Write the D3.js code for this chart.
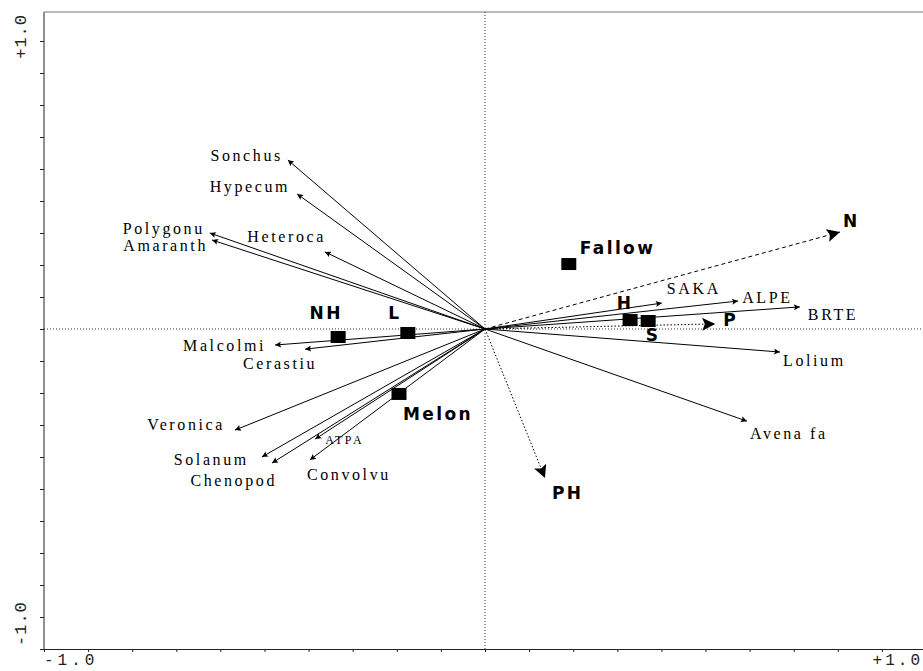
<!DOCTYPE html>
<html>
<head>
<meta charset="utf-8">
<script src="https://cdn.jsdelivr.net/npm/d3@7/dist/d3.min.js"></script>
<style>
  html, body { margin: 0; padding: 0; background: #fff; }
  svg { display: block; }
</style>
</head>
<body>
<svg id="chart" width="923" height="671"></svg>
<script>
// ---------------- DATA ----------------
const speciesNames = ["Sonchus", "Hypecum", "Polygonu", "Amaranth", "Heteroca", "Malcolmi", "Cerastiu",
  "Veronica", "Solanum", "Chenopod", "ATPA", "Convolvu", "SAKA", "ALPE", "BRTE", "Lolium", "Avena fa"];
const speciesX = [-0.447, -0.426, -0.624, -0.619, -0.363, -0.476, -0.408,
  -0.567, -0.506, -0.483, -0.385, -0.397, 0.401, 0.574, 0.714, 0.669, 0.594];
const speciesY = [0.528, 0.422, 0.300, 0.278, 0.241, -0.050, -0.063,
  -0.316, -0.400, -0.419, -0.344, -0.409, 0.081, 0.0875, 0.069, -0.072, -0.288];

const envNames = ["N", "P", "PH"];
const envX = [0.805, 0.522, 0.136];
const envY = [0.303, 0.016, -0.466];

const sampleNames = ["Fallow", "H", "S", "NH", "L", "Melon"];
const sampleX = [0.190, 0.329, 0.370, -0.333, -0.175, -0.195];
const sampleY = [0.203, 0.028, 0.025, -0.025, -0.0125, -0.203];

const axisTickLabels = ["-1.0", "+1.0"];

// ---------------- LAYOUT (label offsets in px, anchor) ----------------
const speciesLabelLayout = [
  [-5, -5, "end"], [-7, -7, "end"], [-5, -5, "end"], [-4, 5, "end"], [1, -15, "end"],
  [-9, 0, "end"], [-25, 14, "middle"], [-10, -6, "end"], [-13, 2, "end"], [5, 17, "end"],
  [10, 1, "start"], [-3, 15, "start"], [5, -15, "start"], [4, -4, "start"], [8, 8, "start"],
  [3, 8, "start"], [3, 12, "start"]
];
const envLabelLayout = [[3, -11, "start"], [8, -4, "start"], [7, 15, "start"]];
const envDash = ["4 3", "1.5 2", "1.5 2"];
const sampleLabelLayout = [
  [11, -16, "start"], [-5, -17, "middle"], [5, 14, "middle"],
  [-12, -24, "middle"], [-13, -20, "middle"], [4, 20, "start"]
];

// ---------------- SCALES ----------------
const svg = d3.select("#chart");
const W = 923;
const x = d3.scaleLinear().domain([-1, 1]).range([44, 926]);
const y = d3.scaleLinear().domain([-1, 1]).range([649, 9]);
const plotTop = 12;

// markers
const defs = svg.append("defs");
defs.append("marker")
  .attr("id", "spHead").attr("viewBox", "0 0 10 10")
  .attr("refX", 10).attr("refY", 5)
  .attr("markerUnits", "userSpaceOnUse")
  .attr("markerWidth", 7).attr("markerHeight", 6)
  .attr("orient", "auto")
  .append("path").attr("d", "M0,0 L10,5 L0,10 L2,5 Z").attr("fill", "#000");
defs.append("marker")
  .attr("id", "envHead").attr("viewBox", "0 0 10 10")
  .attr("refX", 10).attr("refY", 5)
  .attr("markerUnits", "userSpaceOnUse")
  .attr("markerWidth", 17).attr("markerHeight", 13)
  .attr("orient", "auto")
  .append("path").attr("d", "M0,0 L10,5 L0,10 L2,5 Z").attr("fill", "#000");

// ---------------- AXES ----------------
const bottomAxis = d3.axisBottom(x)
  .tickValues(d3.range(-10, 11).map(d => d / 10))
  .tickSize(3).tickSizeOuter(0).tickFormat("");
const gb = svg.append("g").attr("transform", `translate(0,${y(-1)})`).call(bottomAxis);
gb.select(".domain").attr("stroke", "#222");
gb.selectAll(".tick line").attr("stroke", "#222");

const leftAxis = d3.axisLeft(y)
  .tickValues(d3.range(-10, 10).map(d => d / 10))
  .tickSize(4).tickSizeOuter(0).tickFormat("");
const gl = svg.append("g").attr("transform", `translate(${x(-1)},0)`).call(leftAxis);
gl.select(".domain").remove();
gl.selectAll(".tick line").attr("stroke", "#222");
svg.append("line")
  .attr("x1", x(-1)).attr("x2", x(-1))
  .attr("y1", y(-1)).attr("y2", plotTop)
  .attr("stroke", "#222");
// top frame
svg.append("line")
  .attr("x1", x(-1)).attr("x2", x(1))
  .attr("y1", plotTop).attr("y2", plotTop)
  .attr("stroke", "#777");

// origin dotted lines
svg.append("line")
  .attr("x1", x(0)).attr("x2", x(0))
  .attr("y1", plotTop).attr("y2", y(-1))
  .attr("stroke", "#333").attr("stroke-dasharray", "1 2");
svg.append("line")
  .attr("x1", x(-1)).attr("x2", x(1))
  .attr("y1", y(0)).attr("y2", y(0))
  .attr("stroke", "#333").attr("stroke-dasharray", "1 2");

// tick labels
const monoFont = "'Liberation Mono', 'DejaVu Sans Mono', monospace";
svg.append("text").text(axisTickLabels[0])
  .attr("x", x(-1)).attr("y", y(-1) + 12)
  .attr("dominant-baseline", "central").attr("text-anchor", "start")
  .style("font-family", monoFont).style("font-size", "16px").style("letter-spacing", "4px")
  .attr("fill", "#222");
svg.append("text").text(axisTickLabels[1])
  .attr("x", W).attr("y", y(-1) + 12)
  .attr("dominant-baseline", "central").attr("text-anchor", "end")
  .style("font-family", monoFont).style("font-size", "16px").style("letter-spacing", "3px")
  .attr("fill", "#222");
svg.append("text").text(axisTickLabels[1])
  .attr("transform", `translate(21,${plotTop + 2}) rotate(-90)`)
  .attr("dominant-baseline", "central").attr("text-anchor", "end")
  .style("font-family", monoFont).style("font-size", "17px").style("letter-spacing", "1px")
  .attr("fill", "#222");
svg.append("text").text(axisTickLabels[0])
  .attr("transform", `translate(21,${y(-1) - 3}) rotate(-90)`)
  .attr("dominant-baseline", "central").attr("text-anchor", "start")
  .style("font-family", monoFont).style("font-size", "17px").style("letter-spacing", "1px")
  .attr("fill", "#222");

// ---------------- SPECIES ARROWS ----------------
const serifFont = "'Liberation Serif', 'Times New Roman', serif";
const species = speciesNames.map((n, i) => ({ name: n, x: speciesX[i], y: speciesY[i], lay: speciesLabelLayout[i] }));
svg.append("g").selectAll("line").data(species).join("line")
  .attr("x1", x(0)).attr("y1", y(0))
  .attr("x2", d => x(d.x)).attr("y2", d => y(d.y))
  .attr("stroke", "#000").attr("stroke-width", 1)
  .attr("marker-end", "url(#spHead)");
svg.append("g").selectAll("text").data(species).join("text")
  .text(d => d.name)
  .attr("x", d => x(d.x) + d.lay[0]).attr("y", d => y(d.y) + d.lay[1])
  .attr("text-anchor", d => d.lay[2])
  .attr("dominant-baseline", "central")
  .style("font-family", serifFont)
  .style("font-size", d => d.name === "ATPA" ? "12px" : "16px")
  .style("letter-spacing", d => d.name === "ATPA" ? "2.5px" : "2.6px")
  .attr("fill", "#000");

// ---------------- ENVIRONMENT ARROWS ----------------
const boldFont = "'DejaVu Sans', Verdana, sans-serif";
const env = envNames.map((n, i) => ({ name: n, x: envX[i], y: envY[i], lay: envLabelLayout[i], dash: envDash[i] }));
svg.append("g").selectAll("line").data(env).join("line")
  .attr("x1", x(0)).attr("y1", y(0))
  .attr("x2", d => x(d.x)).attr("y2", d => y(d.y))
  .attr("stroke", "#000").attr("stroke-width", 1)
  .attr("stroke-dasharray", d => d.dash)
  .attr("marker-end", "url(#envHead)");
svg.append("g").selectAll("text").data(env).join("text")
  .text(d => d.name)
  .attr("x", d => x(d.x) + d.lay[0]).attr("y", d => y(d.y) + d.lay[1])
  .attr("text-anchor", d => d.lay[2])
  .attr("dominant-baseline", "central")
  .style("font-family", boldFont).style("font-weight", "bold")
  .style("font-size", "17px").style("letter-spacing", "2.4px")
  .attr("fill", "#000");

// ---------------- SAMPLES ----------------
const samples = sampleNames.map((n, i) => ({ name: n, x: sampleX[i], y: sampleY[i], lay: sampleLabelLayout[i] }));
svg.append("g").selectAll("rect").data(samples).join("rect")
  .attr("x", d => x(d.x) - 7.5).attr("y", d => y(d.y) - 6)
  .attr("width", 15).attr("height", 12)
  .attr("fill", "#000");
svg.append("g").selectAll("text").data(samples).join("text")
  .text(d => d.name)
  .attr("x", d => x(d.x) + d.lay[0]).attr("y", d => y(d.y) + d.lay[1])
  .attr("text-anchor", d => d.lay[2])
  .attr("dominant-baseline", "central")
  .style("font-family", boldFont).style("font-weight", "bold")
  .style("font-size", "17px").style("letter-spacing", "2.4px")
  .attr("fill", "#000");
</script>
</body>
</html>
